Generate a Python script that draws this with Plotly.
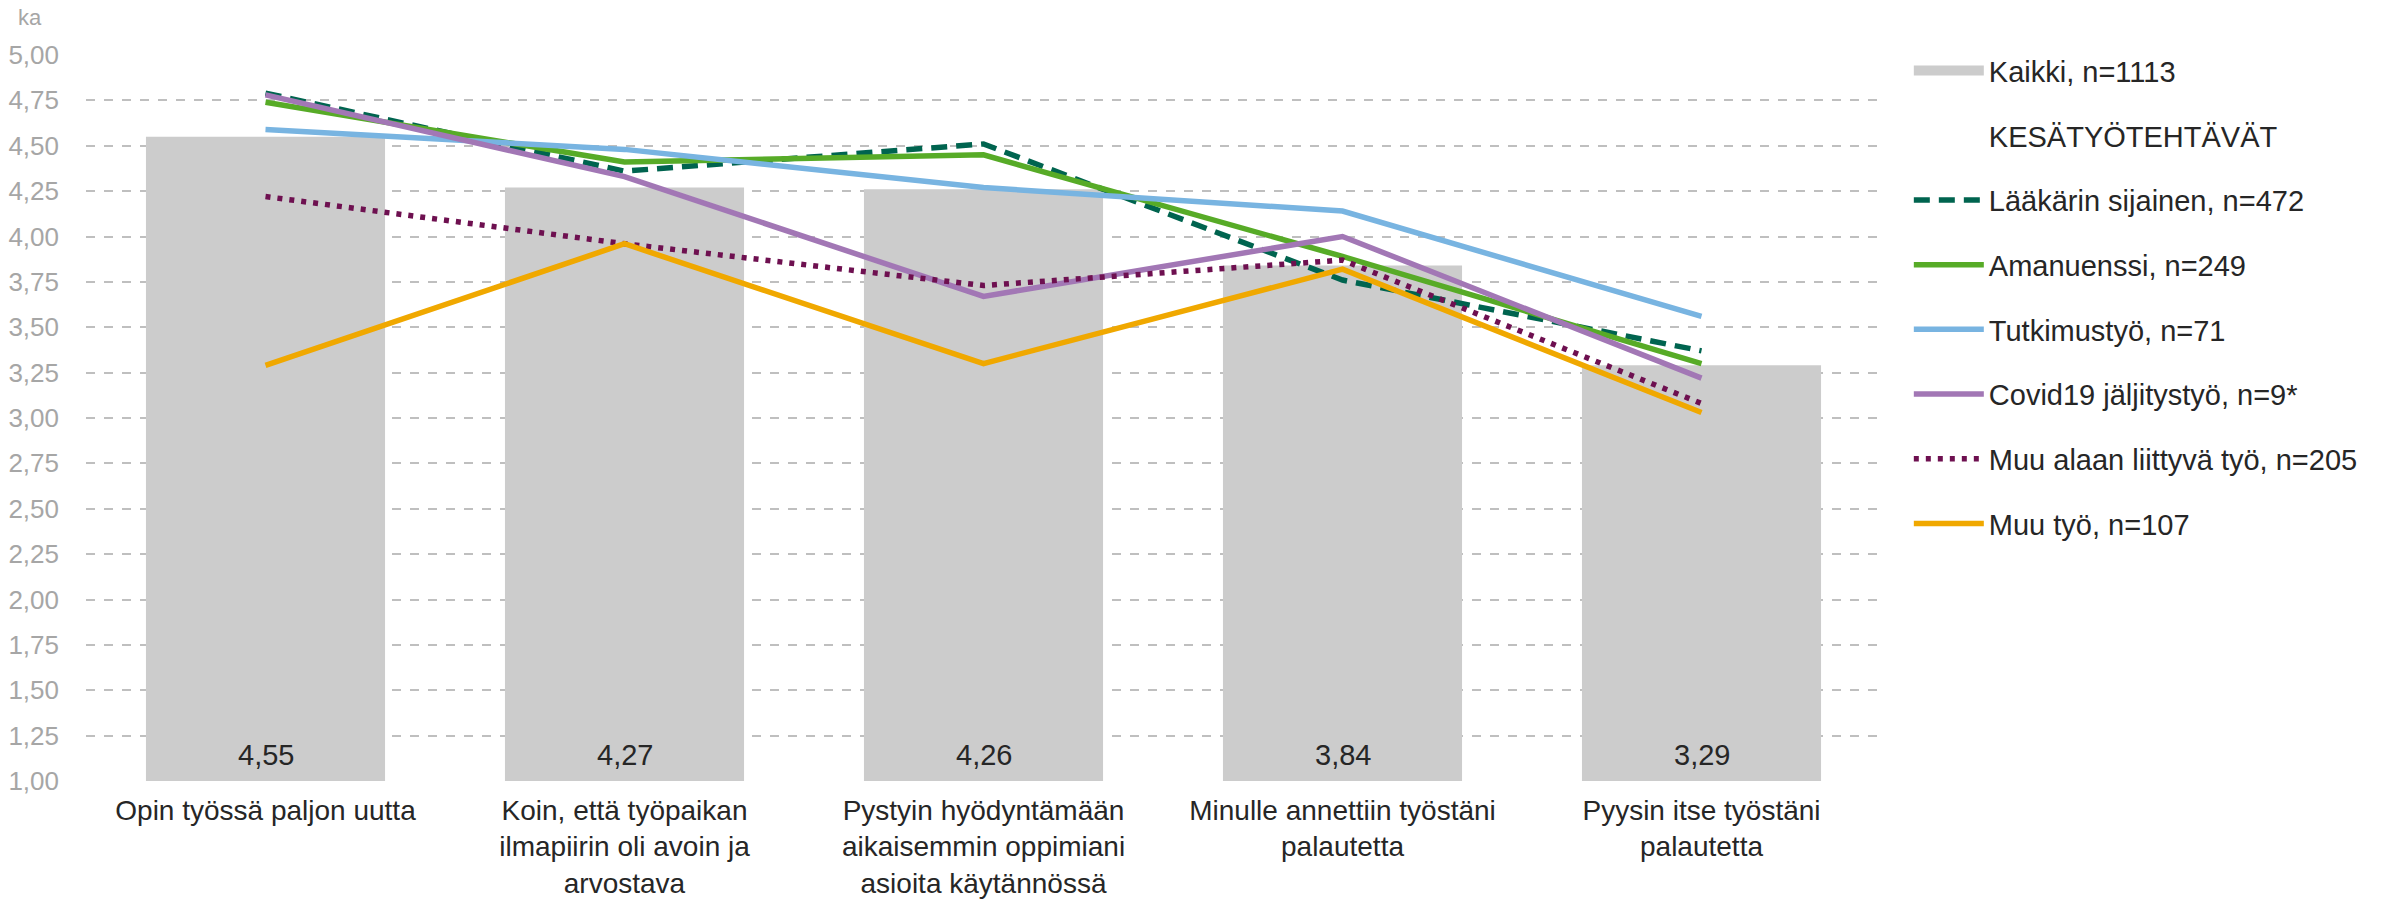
import plotly.graph_objects as go

categories = [
    "Opin työssä paljon uutta",
    "Koin, että työpaikan<br>ilmapiirin oli avoin ja<br>arvostava",
    "Pystyin hyödyntämään<br>aikaisemmin oppimiani<br>asioita käytännössä",
    "Minulle annettiin työstäni<br>palautetta",
    "Pyysin itse työstäni<br>palautetta",
]
kaikki = [4.55, 4.27, 4.26, 3.84, 3.29]
laakarin_sijainen = [4.79, 4.36, 4.51, 3.76, 3.37]
amanuenssi = [4.74, 4.41, 4.45, 3.89, 3.30]
tutkimustyo = [4.59, 4.48, 4.27, 4.14, 3.56]
covid19 = [4.78, 4.33, 3.67, 4.00, 3.22]
muu_alaan = [4.22, 3.96, 3.73, 3.87, 3.08]
muu_tyo = [3.29, 3.96, 3.30, 3.82, 3.03]
y_ticks = [1.00, 1.25, 1.50, 1.75, 2.00, 2.25, 2.50, 2.75, 3.00, 3.25, 3.50, 3.75, 4.00, 4.25, 4.50, 4.75, 5.00]
axis_base = 1.0

FONT = "Liberation Sans, Arial, sans-serif"
fig = go.Figure()

fig.add_trace(go.Bar(
    x=categories,
    y=[v - axis_base for v in kaikki],
    base=[axis_base] * len(kaikki),
    name="Kaikki, n=1113",
    marker=dict(color="#CCCCCC", line=dict(width=0)),
    showlegend=False,
    hoverinfo="skip",
))

# legend entry for the bars (wide grey swatch)
fig.add_trace(go.Scatter(
    x=[None], y=[None], mode="lines",
    name="Kaikki, n=1113",
    line=dict(color="#CCCCCC", width=14),
    legendgroup="g0",
))

fig.add_trace(go.Scatter(
    x=[None], y=[None], mode="lines",
    name="KESÄTYÖTEHTÄVÄT",
    line=dict(color="rgba(0,0,0,0)", width=0),
    legendgroup="g1",
))

series = [
    ("Lääkärin sijainen, n=472", laakarin_sijainen, "#00644F", "16px,9px"),
    ("Amanuenssi, n=249", amanuenssi, "#57AB27", "solid"),
    ("Tutkimustyö, n=71", tutkimustyo, "#78B4E1", "solid"),
    ("Covid19 jäljitystyö, n=9*", covid19, "#A277B5", "solid"),
    ("Muu alaan liittyvä työ, n=205", muu_alaan, "#6E1050", "5px,7px"),
    ("Muu työ, n=107", muu_tyo, "#F0A800", "solid"),
]
for i, (name, vals, color, dash) in enumerate(series):
    fig.add_trace(go.Scatter(
        x=categories, y=vals, mode="lines", name=name,
        line=dict(color=color, width=5.5, dash=dash),
        legendgroup=f"g{i+2}",
    ))

# bar value labels at the base of each bar
for cat, v in zip(categories, kaikki):
    fig.add_annotation(
        x=cat, y=axis_base, xref="x", yref="y",
        text=f"{v:.2f}".replace(".", ","),
        showarrow=False, yanchor="middle", yshift=26,
        font=dict(size=29, color="#262626", family=FONT),
    )

fig.add_annotation(
    text="ka", xref="paper", yref="paper", x=-0.039, y=1.051,
    xanchor="left", yanchor="middle", showarrow=False,
    font=dict(size=22, color="#A6A6A6", family=FONT),
)

fig.update_layout(
    width=2384, height=900,
    margin=dict(l=86, r=503, t=55, b=119, autoexpand=False),
    paper_bgcolor="white", plot_bgcolor="white",
    separators=", ",
    bargap=0.334,
    font=dict(family=FONT, color="#262626"),
    showlegend=True,
    legend=dict(
        x=1.0155, y=1.0135, xanchor="left", yanchor="top",
        font=dict(size=29, color="#262626", family=FONT),
        tracegroupgap=24,
        itemwidth=70,
        traceorder="grouped",
        bgcolor="rgba(0,0,0,0)",
        maxheight=880,
    ),
    xaxis=dict(
        type="category",
        range=[-0.5, 4.5],
        showgrid=False, showline=False, zeroline=False,
        ticks="", automargin=False,
        tickfont=dict(size=28, color="#262626", family=FONT),
        ticklabelstandoff=10,
    ),
    yaxis=dict(
        range=[1, 5],
        tickvals=y_ticks,
        tickformat=".2f",
        showgrid=True, gridcolor="#BFBFBF", gridwidth=1.5, griddash="dash",
        zeroline=False, showline=False, ticks="", automargin=False,
        tickfont=dict(size=26, color="#A6A6A6", family=FONT),
        ticklabelstandoff=26,
    ),
)

fig.write_html(
    "out.html",
    config={"displayModeBar": False},
    post_script="document.body.style.margin='0';document.body.style.padding='0';document.body.style.overflow='hidden';",
)
